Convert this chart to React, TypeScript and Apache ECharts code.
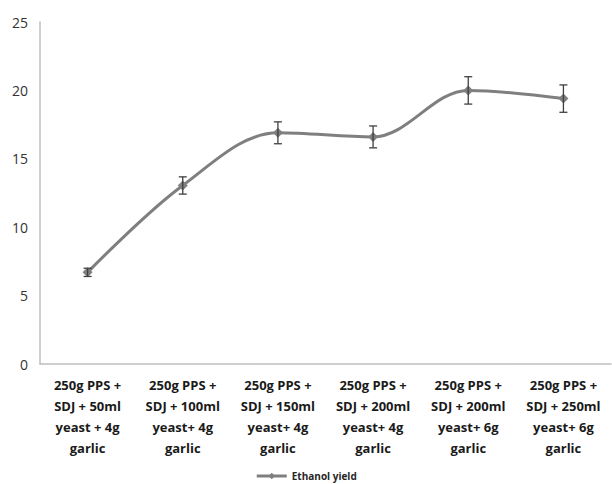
import React, { useEffect, useRef } from "react";
import * as echarts from "echarts";

const categories = [
  "250g PPS +\nSDJ + 50ml\nyeast + 4g\ngarlic",
  "250g PPS +\nSDJ + 100ml\nyeast+ 4g\ngarlic",
  "250g PPS +\nSDJ + 150ml\nyeast+ 4g\ngarlic",
  "250g PPS +\nSDJ + 200ml\nyeast+ 4g\ngarlic",
  "250g PPS +\nSDJ + 200ml\nyeast+ 6g\ngarlic",
  "250g PPS +\nSDJ + 250ml\nyeast+ 6g\ngarlic",
];
const ethanolYield = [6.7, 13.05, 16.9, 16.6, 20.0, 19.4];
const errors = [0.3, 0.63, 0.8, 0.8, 1.0, 1.0];
const yTicks = [0, 5, 10, 15, 20, 25];

export default function App() {
  const ref = useRef<HTMLDivElement>(null);
  useEffect(() => {
    if (!ref.current) return;
    const chart = echarts.init(ref.current, null, { renderer: "svg" });
    const errData = ethanolYield.map((v, i) => [i, v - errors[i], v + errors[i]]);
    chart.setOption({
      animation: false,
      grid: { left: 40, right: 1, top: 22, bottom: 120, containLabel: false },
      legend: {
        bottom: 1,
        left: "center",
        padding: 2,
        data: ["Ethanol yield"],
        itemWidth: 30,
        itemHeight: 8,
        itemGap: 2,
        lineStyle: { width: 3 },
        textStyle: { fontSize: 10, fontWeight: "bold", color: "#262626", fontFamily: "Open Sans" },
      },
      xAxis: {
        type: "category",
        data: categories,
        axisLine: { lineStyle: { color: "#bfbfbf", width: 1.5 } },
        axisTick: { show: false },
        axisLabel: {
          interval: 0,
          fontSize: 13,
          fontWeight: "bold",
          color: "#1a1a1a",
          lineHeight: 21,
          margin: 10,
          fontFamily: "Open Sans",
        },
      },
      yAxis: {
        type: "value",
        min: 0,
        max: 25,
        interval: 5,
        axisLine: { show: true, lineStyle: { color: "#bfbfbf", width: 1.5 } },
        axisTick: { show: false },
        splitLine: { show: false },
        axisLabel: {
          fontSize: 14,
          color: "#333333",
          margin: 12,
          fontFamily: "Open Sans",
          formatter: (v: number) => (yTicks.includes(v) ? String(v) : ""),
        },
      },
      series: [
        {
          name: "Ethanol yield",
          type: "line",
          data: ethanolYield,
          smooth: 0.35,
          symbol: "diamond",
          symbolSize: 10,
          lineStyle: { color: "#7f7f7f", width: 3 },
          itemStyle: { color: "#7f7f7f" },
          z: 2,
        },
        {
          name: "err",
          type: "custom",
          data: errData,
          z: 3,
          renderItem: (params: any, api: any) => {
            const x = api.value(0);
            const lo = api.coord([x, api.value(1)]);
            const hi = api.coord([x, api.value(2)]);
            const w = 4;
            const style = { stroke: "#404040", lineWidth: 1.3 };
            return {
              type: "group",
              children: [
                { type: "line", shape: { x1: lo[0], y1: lo[1], x2: hi[0], y2: hi[1] }, style },
                { type: "line", shape: { x1: lo[0] - w, y1: lo[1], x2: lo[0] + w, y2: lo[1] }, style },
                { type: "line", shape: { x1: hi[0] - w, y1: hi[1], x2: hi[0] + w, y2: hi[1] }, style },
              ],
            };
          },
        },
      ],
    });
    return () => chart.dispose();
  }, []);
  return <div ref={ref} style={{ width: 612, height: 484, position: "absolute", left: 0, top: 0 }} />;
}
